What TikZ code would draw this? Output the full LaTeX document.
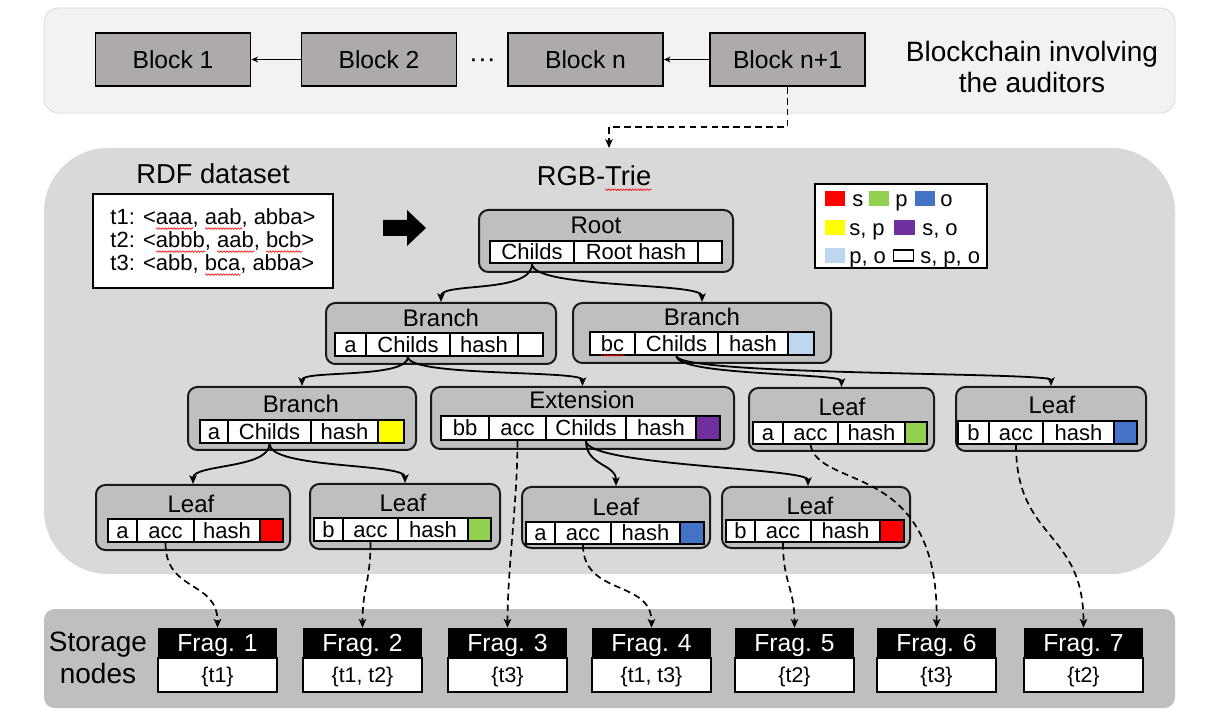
\documentclass[tikz,border=0pt]{standalone}
\usepackage{fontspec}
\setmainfont{Liberation Sans}
\usetikzlibrary{arrows.meta,calc,decorations.pathmorphing}
\newsavebox\sqbox
\newcommand\squig[1]{\leavevmode\sbox\sqbox{#1}\rlap{\smash{\raisebox{-3pt}{\tikz[baseline=0pt]\draw[red, line width=0.45pt, decorate, decoration={zigzag, amplitude=0.6pt, segment length=2.2pt}] (0pt,0pt) -- (\wd\sqbox,0pt);}}}\usebox\sqbox}
\definecolor{blockgray}{HTML}{AEAAAA}
\definecolor{toppanel}{HTML}{F2F2F2}
\definecolor{toppanelline}{HTML}{D9D9D9}
\definecolor{midpanel}{HTML}{D9D9D9}
\definecolor{nodegray}{HTML}{BFBFBF}
\definecolor{botpanel}{HTML}{BFBFBF}
\definecolor{lgreen}{HTML}{92D050}
\definecolor{lblue}{HTML}{4472C4}
\definecolor{lpurple}{HTML}{7030A0}
\definecolor{llight}{HTML}{BDD7EE}
\definecolor{lred}{HTML}{FF0000}
\definecolor{lyellow}{HTML}{FFFF00}
\tikzset{
  blockst/.style={draw=black, fill=blockgray, line width=1.4pt, minimum width=116.25pt, minimum height=39.75pt, inner sep=0pt, font=\fontsize{18.5}{20}\selectfont, text height=13.2pt, text depth=0pt},
  blockarrow/.style={-{Stealth[length=5pt,width=4.5pt]}, line width=1.2pt},
  title/.style={inner sep=0pt, font=\fontsize{21}{23}\selectfont},
  tbox/.style={draw=black!90, fill=nodegray, line width=1.5pt, rounded corners=7pt, inner sep=0pt},
  tlabel/.style={inner sep=0pt, font=\fontsize{18}{20}\selectfont, text height=12.9pt, text depth=0pt},
  cellst/.style={draw=black, fill=white, line width=1.35pt, inner sep=0pt, font=\fontsize{16.5}{18}\selectfont, text height=11.8pt, text depth=0pt},
  edge/.style={-{Stealth[length=6.5pt,width=5.5pt,inset=1.5pt]}, line width=1.35pt},
  dashedge/.style={-{Stealth[length=6.5pt,width=5.5pt,inset=1.5pt]}, line width=1.25pt, dash pattern=on 5pt off 3.2pt},
  sq/.style={inner sep=0pt, minimum width=15pt, minimum height=11.25pt},
  legtext/.style={anchor=west, inner sep=0pt, font=\fontsize{16.5}{18}\selectfont, text height=11.8pt, text depth=0pt},
  fraghead/.style={fill=black, text=white, minimum width=89.25pt, minimum height=22.5pt, inner sep=0pt, font=\fontsize{18.5}{20}\selectfont, text height=13.2pt, text depth=0pt},
  fragbody/.style={draw=black, fill=white, line width=0.9pt, minimum width=89.25pt, minimum height=25.5pt, inner sep=0pt, font=\fontsize{16}{18}\selectfont, text height=11.5pt, text depth=0pt}
}
\newcommand\tnode[8]{%
  \node[tbox, minimum width={(#3-#2)*0.75pt}, minimum height={(#5-#4)*0.75pt}] (#1) at ({(#2+#3)/2},{(#4+#5)/2}) {};
  \node[tlabel] (#1-l) at (#7,#8) {#6};}
\newcommand\cell[7][]{%
  \node[cellst,#1,minimum width={(#4-#3)*0.75pt},minimum height={(#6-#5)*0.75pt}] (#2) at ({(#3+#4)/2},{(#5+#6)/2}) {#7};}
\newcommand\frag[4]{%
  \node[fragbody] (#1b) at ({#2+59.5},675) {#4};
  \node[fraghead] (#1) at ({#2+59.5},643) {#3};}
\begin{document}
\begin{tikzpicture}[x=0.75pt,y=-0.75pt]
\useasboundingbox (0,0) rectangle (1218,723);
\fill[white] (0,0) rectangle (1218,723);
% panels
\filldraw[draw=toppanelline, fill=toppanel, line width=0.6pt, rounded corners=11pt] (44,8) rectangle (1175,113);
\fill[midpanel, rounded corners=48pt] (44,148) rectangle (1175,574);
\fill[botpanel, rounded corners=8pt] (44,609) rectangle (1175,708);
% blockchain
\node[blockst] (blk1) at (173,59.5) {Block 1};
\node[blockst] (blk2) at (379,59.5) {Block 2};
\node[anchor=base, inner sep=0pt, font=\fontsize{20}{20}\selectfont] (dots) at (482.5,68) {···};
\node[blockst] (blkn) at (585.5,59.5) {Block n};
\node[blockst] (blkn1) at (787.5,59.5) {Block n+1};
\draw[blockarrow] (blk2.west) -- (blk1.east);
\draw[blockarrow] (blkn1.west) -- (blkn.east);
\node[title, anchor=base] (bc1) at (1032,62) {Blockchain involving};
\node[title, anchor=base] (bc2) at (1032,93) {the auditors};
\coordinate (trietop) at (609,148);
\draw[dashedge] (blkn1.south) -- ++(0,40) -| (trietop);
% RDF dataset
\node[title, text height=14.6pt, text depth=0pt, font=\fontsize{20.5}{22}\selectfont] (rdft) at (213,173.5) {RDF dataset};
\node[draw=black, fill=white, line width=1.1pt, minimum width=180pt, minimum height=70.5pt, inner sep=0pt, align=left, font=\fontsize{16.5}{17.25}\selectfont] (rdf) at (213,241) {t1: <\squig{aaa}, \squig{aab}, abba>\\t2: <\squig{abbb}, \squig{aab}, \squig{bcb}>\\t3: <abb, \squig{bca}, abba>};
\fill[black] (383,220) -- (407,220) -- (407,210) -- (426,228) -- (407,246) -- (407,236) -- (383,236) -- cycle;
\node[title, text height=14.6pt, text depth=0pt, font=\fontsize{20.5}{22}\selectfont] (rgbt) at (594,176) {RGB-\squig{Trie}};
% legend
\node[draw=black, fill=white, line width=0.8pt, minimum width=129pt, minimum height=63pt, inner sep=0pt] (legend) at (901,226) {};
\node[sq, fill=lred] (sqs) at (835,198.5) {};
\node[legtext] (ts) at (852,198.5) {s};
\node[sq, fill=lgreen] (sqp) at (879,198.5) {};
\node[legtext] (tp) at (895,198.5) {p};
\node[sq, fill=lblue] (sqo) at (925,198.5) {};
\node[legtext] (to) at (940,198.5) {o};
\node[sq, fill=lyellow] (sqsp) at (835,227.5) {};
\node[legtext] (tsp) at (849,227.5) {s, p};
\node[sq, fill=lpurple, minimum width=15.75pt] (sqso) at (904.5,227.5) {};
\node[legtext] (tso) at (922,227.5) {s, o};
\node[sq, fill=llight] (sqpo) at (835,255.5) {};
\node[legtext] (tpo) at (849,255.5) {p, o};
\node[draw=black, line width=1.3pt, fill=white, inner sep=0pt, minimum width=15pt, minimum height=8pt] (sqspo) at (903.5,255.5) {};
\node[legtext] (tspo) at (920,255.5) {s, p, o};
% Root
\tnode{root}{479}{733}{210}{272}{Root}{596}{225}
\cell{rch}{490}{574}{241}{263}{Childs}
\cell{rhash}{574}{698}{241}{263}{Root hash}
\cell{rcol}{698}{722}{241}{263}{}
% Branch a
\tnode{br1}{326}{556}{303}{364}{Branch}{441}{318}
\cell{b1k}{335}{366}{333}{356}{a}
\cell{b1ch}{366}{450}{333}{356}{Childs}
\cell{b1h}{450}{518}{333}{356}{hash}
\cell{b1c}{518}{543}{333}{356}{}
% Branch bc
\tnode{br2}{573}{831}{303}{363}{Branch}{702}{317}
\cell{b2k}{590}{635}{332}{355}{\squig{bc}}
\cell{b2ch}{635}{718}{332}{355}{Childs}
\cell{b2h}{718}{788}{332}{355}{hash}
\cell[fill=llight]{b2c}{788}{814}{332}{355}{}
% Branch yellow
\tnode{br3}{188}{416}{387}{450}{Branch}{301}{404}
\cell{b3k}{200}{228}{420}{443}{a}
\cell{b3ch}{228}{311}{420}{443}{Childs}
\cell{b3h}{311}{378}{420}{443}{hash}
\cell[fill=lyellow]{b3c}{378}{404}{420}{443}{}
% Extension
\tnode{ext}{431}{734}{387}{449}{Extension}{582}{400}
\cell{ek}{441}{489}{416}{440}{bb}
\cell{eacc}{489}{546}{416}{440}{acc}
\cell{ech}{546}{626}{416}{440}{Childs}
\cell{eh}{626}{696}{416}{440}{hash}
\cell[fill=lpurple]{ec}{696}{720}{416}{440}{}
% Leaf 3 (a, green)
\tnode{lf3}{749}{934}{388}{451}{Leaf}{842}{407}
\cell{l3k}{753}{783}{422}{444}{a}
\cell{l3acc}{783}{838}{422}{444}{acc}
\cell{l3h}{838}{905}{422}{444}{hash}
\cell[fill=lgreen]{l3c}{905}{927}{422}{444}{}
% Leaf 4 (b, blue)
\tnode{lf4}{956}{1146}{387}{451}{Leaf}{1052}{405}
\cell{l4k}{958}{989}{421}{444}{b}
\cell{l4acc}{989}{1043}{421}{444}{acc}
\cell{l4h}{1043}{1114}{421}{444}{hash}
\cell[fill=lblue]{l4c}{1114}{1137}{421}{444}{}
% Leaf 1 (a, red)
\tnode{lf1}{96}{290}{485}{550}{Leaf}{191}{504}
\cell{l1k}{108}{137}{519}{542}{a}
\cell{l1acc}{137}{194}{519}{542}{acc}
\cell{l1h}{194}{260}{519}{542}{hash}
\cell[fill=lred]{l1c}{260}{283}{519}{542}{}
% Leaf 2 (b, green)
\tnode{lf2}{310}{500}{484}{549}{Leaf}{403}{503}
\cell{l2k}{314}{343}{518}{541}{b}
\cell{l2acc}{343}{398}{518}{541}{acc}
\cell{l2h}{398}{468}{518}{541}{hash}
\cell[fill=lgreen]{l2c}{468}{491}{518}{541}{}
% Leaf 5 (a, blue)
\tnode{lf5}{522}{710}{487}{548}{Leaf}{616}{507}
\cell{l5k}{526}{555}{522}{544}{a}
\cell{l5acc}{555}{611}{522}{544}{acc}
\cell{l5h}{611}{680}{522}{544}{hash}
\cell[fill=lblue]{l5c}{680}{704}{522}{544}{}
% Leaf 6 (b, red)
\tnode{lf6}{722}{910}{487}{548}{Leaf}{810}{506}
\cell{l6k}{726}{755}{520}{542}{b}
\cell{l6acc}{755}{811}{520}{542}{acc}
\cell{l6h}{811}{880}{520}{542}{hash}
\cell[fill=lred]{l6c}{880}{904}{520}{542}{}
% tree edges
\draw[edge] (rch.south) .. controls +(0,30) and +(0,-20) .. (br1.north);
\draw[edge] (rch.south) .. controls +(0,25) and +(0,-20) .. (br2.north);
\draw[edge] (b1ch.south) .. controls +(0,22) and +(0,-16) .. (br3.north);
\draw[edge] (b1ch.south) .. controls +(0,20) and +(0,-16) .. (ext.north);
\draw[edge] (b2ch.south) .. controls +(0,20) and +(0,-14) .. (lf3.north);
\draw[edge] (b2ch.south) .. controls +(0,20) and +(0,-14) .. (lf4.north);
\draw[edge] (b3ch.south) .. controls +(0,25) and +(0,-20) .. (lf1.north);
\draw[edge] (b3ch.south) .. controls +(0,25) and +(0,-20) .. (lf2.north);
\draw[edge] (ech.south) .. controls +(0,25) and +(0,-22) .. (lf5.north);
\draw[edge] (ech.south) .. controls +(0,25) and +(0,-18) .. ([xshift=-6pt]lf6.north);
% storage
\node[title, text height=15pt, text depth=0pt] (st1) at (98,641) {Storage};
\node[title, text height=15pt, text depth=0pt] (st2) at (98,673) {nodes};
\frag{f1}{158}{Frag. 1}{\{t1\}}
\frag{f2}{303}{Frag. 2}{\{t1, t2\}}
\frag{f3}{448}{Frag. 3}{\{t3\}}
\frag{f4}{592}{Frag. 4}{\{t1, t3\}}
\frag{f5}{735}{Frag. 5}{\{t2\}}
\frag{f6}{877}{Frag. 6}{\{t3\}}
\frag{f7}{1024}{Frag. 7}{\{t2\}}
% dashed links
\draw[dashedge] (l1acc.south) .. controls +(0,50) and +(0,-48) .. (f1.north);
\draw[dashedge] (l2acc.south) .. controls +(0,40) and +(0,-40) .. (f2.north);
\draw[dashedge] (eacc.south) .. controls +(0,60) and +(0,-60) .. (f3.north);
\draw[dashedge] (l5acc.south) .. controls +(0,51) and +(0,-48) .. (f4.north);
\draw[dashedge] (l6acc.south) .. controls +(0,40) and +(0,-40) .. (f5.north);
\draw[dashedge] (l3acc.south) .. controls +(9,46) and +(3,-168) .. (f6.north);
\draw[dashedge] (l4acc.south) .. controls +(0,96) and +(0,-98) .. (f7.north);
\end{tikzpicture}
\end{document}
